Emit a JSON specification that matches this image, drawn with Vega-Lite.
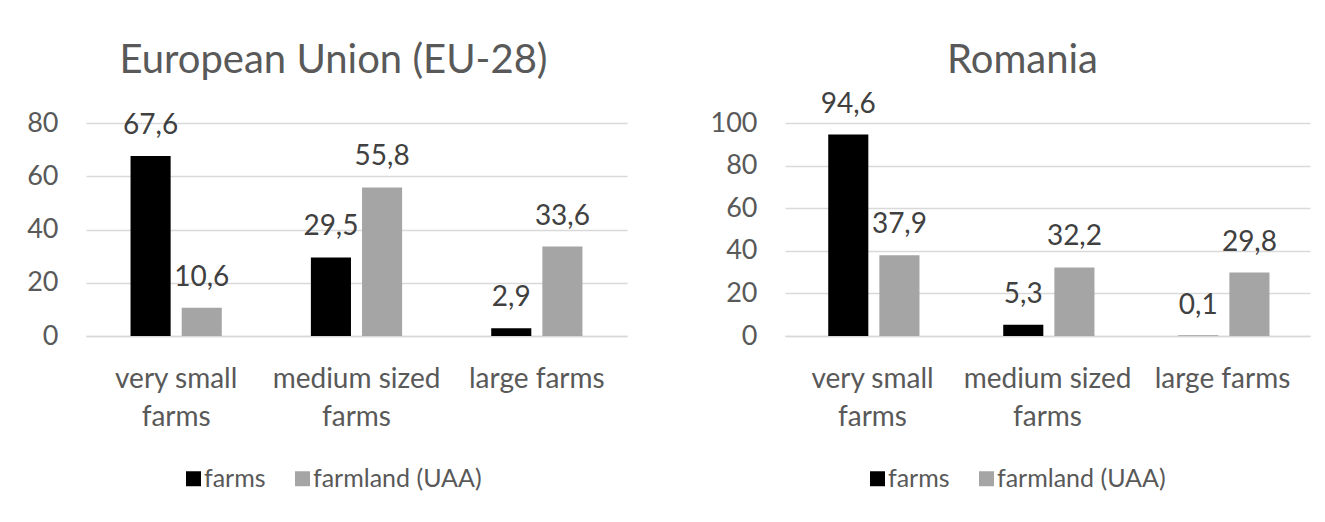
{
  "$schema": "https://vega.github.io/schema/vega-lite/v6.json",
  "padding": {"left": 26, "top": 40, "right": 5, "bottom": 5},
  "background": "white",
  "datasets": {
    "farms": [
      {"region": "EU", "size": "very small farms", "series": "farms", "value": 67.6},
      {"region": "EU", "size": "very small farms", "series": "farmland (UAA)", "value": 10.6},
      {"region": "EU", "size": "medium sized farms", "series": "farms", "value": 29.5},
      {"region": "EU", "size": "medium sized farms", "series": "farmland (UAA)", "value": 55.8},
      {"region": "EU", "size": "large farms", "series": "farms", "value": 2.9},
      {"region": "EU", "size": "large farms", "series": "farmland (UAA)", "value": 33.6},
      {"region": "RO", "size": "very small farms", "series": "farms", "value": 94.6},
      {"region": "RO", "size": "very small farms", "series": "farmland (UAA)", "value": 37.9},
      {"region": "RO", "size": "medium sized farms", "series": "farms", "value": 5.3},
      {"region": "RO", "size": "medium sized farms", "series": "farmland (UAA)", "value": 32.2},
      {"region": "RO", "size": "large farms", "series": "farms", "value": 0.1},
      {"region": "RO", "size": "large farms", "series": "farmland (UAA)", "value": 29.8}
    ]
  },
  "spacing": 83,
  "resolve": {"scale": {"color": "independent", "y": "independent"}, "legend": {"color": "independent"}},
  "hconcat": [
    {
      "width": 541,
      "height": 213,
      "title": {"text": "European Union (EU-28)", "offset": 28, "dx": -23},
      "data": {"name": "farms"},
      "transform": [{"filter": "datum.region == 'EU'"}],
      "encoding": {
        "x": {"field": "size", "type": "nominal", "sort": ["very small farms", "medium sized farms", "large farms"], "title": null,
              "scale": {"paddingInner": 0.494, "paddingOuter": 0.247}},
        "xOffset": {"field": "series", "type": "nominal", "sort": ["farms", "farmland (UAA)"], "scale": {"paddingInner": 0.216, "paddingOuter": 0}},
        "y": {"field": "value", "type": "quantitative", "title": null, "scale": {"domain": [0, 80], "nice": false}, "axis": {"values": [0, 20, 40, 60, 80]}},
        "color": {"field": "series", "type": "nominal", "sort": ["farms", "farmland (UAA)"], "title": null,
                  "scale": {"domain": ["farms", "farmland (UAA)"], "range": ["#000000", "#a5a5a5"]},
                  "legend": {"orient": "none", "legendX": 95, "legendY": 343}}
      },
      "layer": [
        {"mark": {"type": "bar"}},
        {"mark": {"type": "text", "baseline": "alphabetic", "dy": -22, "color": "#404040", "font": "Lato", "fontSize": 28},
         "encoding": {"text": {"field": "value", "type": "quantitative", "format": ".1f"}, "color": {"value": "#404040"}}}
      ]
    },
    {
      "width": 525,
      "height": 213,
      "title": {"text": "Romania", "offset": 10, "dx": -25},
      "data": {"name": "farms"},
      "transform": [{"filter": "datum.region == 'RO'"}],
      "encoding": {
        "x": {"field": "size", "type": "nominal", "sort": ["very small farms", "medium sized farms", "large farms"], "title": null,
              "scale": {"paddingInner": 0.494, "paddingOuter": 0.247}},
        "xOffset": {"field": "series", "type": "nominal", "sort": ["farms", "farmland (UAA)"], "scale": {"paddingInner": 0.216, "paddingOuter": 0}},
        "y": {"field": "value", "type": "quantitative", "title": null, "scale": {"domain": [0, 100], "nice": false}, "axis": {"values": [0, 20, 40, 60, 80, 100]}},
        "color": {"field": "series", "type": "nominal", "sort": ["farms", "farmland (UAA)"], "title": null,
                  "scale": {"domain": ["farms", "farmland (UAA)"], "range": ["#000000", "#a5a5a5"]},
                  "legend": {"orient": "none", "legendX": 80, "legendY": 343}}
      },
      "layer": [
        {"mark": {"type": "bar"}},
        {"mark": {"type": "text", "baseline": "alphabetic", "dy": -22, "color": "#404040", "font": "Lato", "fontSize": 28},
         "encoding": {"text": {"field": "value", "type": "quantitative", "format": ".1f"}, "color": {"value": "#404040"}}}
      ]
    }
  ],
  "config": {
    "locale": {"number": {"decimal": ",", "thousands": ".", "grouping": [3], "currency": ["", " €"]}},
    "font": "Lato",
    "view": {"stroke": null},
    "title": {"font": "Lato", "fontSize": 40, "fontWeight": "normal", "color": "#595959", "anchor": "middle"},
    "axisX": {"domainColor": "#d9d9d9", "domainWidth": 1.5, "ticks": false, "labelAngle": 0, "labelFont": "Lato", "labelFontSize": 28, "labelColor": "#595959", "labelPadding": 29, "labelLineHeight": 38,
              "labelExpr": "datum.value == 'very small farms' ? ['very small', 'farms'] : datum.value == 'medium sized farms' ? ['medium sized', 'farms'] : datum.value"},
    "axisY": {"domain": false, "ticks": false, "gridColor": "#d9d9d9", "gridWidth": 1.5, "labelFont": "Lato", "labelFontSize": 27, "labelColor": "#595959", "labelPadding": 28},
    "legend": {"direction": "horizontal", "labelFont": "Lato", "labelFontSize": 25, "labelColor": "#595959", "labelLimit": 0, "symbolType": "square", "symbolSize": 225, "symbolStrokeWidth": 0, "labelOffset": -2, "columnPadding": 24}
  }
}
